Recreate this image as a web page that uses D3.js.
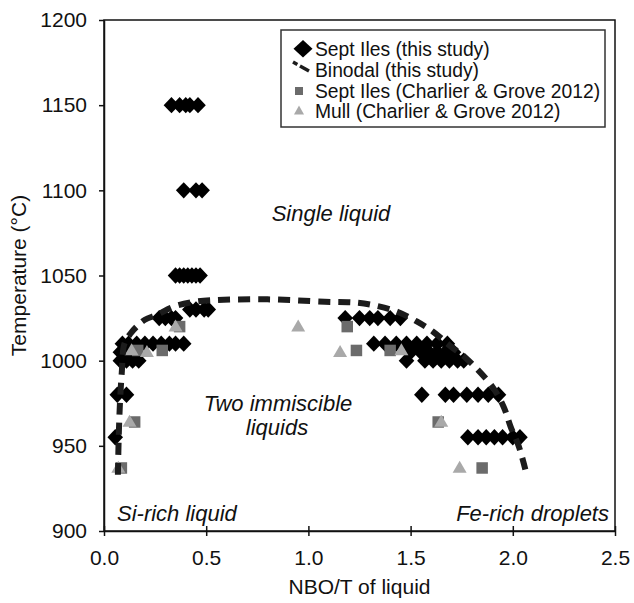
<!DOCTYPE html>
<html><head><meta charset="utf-8">
<script src="https://cdn.jsdelivr.net/npm/d3@7"></script>
<style>
html,body{margin:0;padding:0;background:#fff;}
svg{display:block;font-family:"Liberation Sans",Arial,sans-serif;}
</style></head>
<body><svg id="c" width="634" height="603"></svg>
<script>
// ---- data ----
const xTicks = [0, 0.5, 1.0, 1.5, 2.0, 2.5];
const yTicks = [900, 950, 1000, 1050, 1100, 1150, 1200];

// Sept Iles (this study)
const septX = [0.33,0.37,0.40,0.42,0.46, 0.39,0.45,0.48, 0.35,0.37,0.39,0.41,0.43,0.45,0.47,
  0.42,0.45,0.49,0.51, 0.27,0.30,0.33,0.35, 0.09,0.12,0.16,0.20,0.24,0.28,0.32,0.35,0.39,
  0.08,0.10,0.13, 0.08,0.11,0.14,0.17, 0.065,0.11, 0.055,
  1.18,1.25,1.30,1.34,1.40,1.45, 1.32,1.375,1.43,1.48,1.53,1.58,1.63,1.68,
  1.50,1.55,1.59,1.63,1.67,1.71, 1.48,1.57,1.61,1.65,1.69,1.73,1.76,
  1.555,1.67,1.71,1.775,1.83,1.88,1.93, 1.78,1.83,1.87,1.91,1.95,2.0,2.035];
const septT = [1150,1150,1150,1150,1150, 1100,1100,1100, 1050,1050,1050,1050,1050,1050,1050,
  1030,1030,1030,1030, 1025,1025,1025,1025, 1010,1010,1010,1010,1010,1010,1010,1010,1010,
  1005,1005,1005, 1000,1000,1000,1000, 980,980, 955,
  1025,1025,1025,1025,1025,1025, 1010,1010,1010,1010,1010,1010,1010,1010,
  1005,1005,1005,1005,1005,1005, 1000,1000,1000,1000,1000,1000,1000,
  980,980,980,980,980,980,980, 955,955,955,955,955,955,955];

// Binodal (this study)
const binX = [0.068,0.072,0.078,0.087,0.10,0.13,0.16,0.20,0.26,0.34,0.44,0.55,0.80,1.08,1.24,1.34,1.435,1.53,1.61,1.69,1.77,1.90,1.955,1.99,2.03,2.07];
const binT = [933,955,975,993,1010,1016,1020,1024,1027,1031.7,1034.5,1035.6,1036,1034.6,1034,1032,1028.7,1023,1017,1009,1001.6,984.7,973,961,949.5,932];

// Sept Iles (Charlier & Grove 2012)
const cgSeptX = [0.37,0.165,0.285,0.15,0.085, 1.19,1.235,1.40,1.635,1.85];
const cgSeptT = [1020,1006,1006,964,937, 1020,1006,1006,964,937];

// Mull (Charlier & Grove 2012)
const mullX = [0.35,0.135,0.21,0.125,0.07, 0.95,1.155,1.455,1.65,1.74];
const mullT = [1020,1006,1005,964,937, 1020,1005,1006,964,937];

const legendLabels = ["Sept Iles (this study)","Binodal (this study)","Sept Iles (Charlier & Grove 2012)","Mull (Charlier & Grove 2012)"];

// ---- layout ----
const svg = d3.select("#c");
const L = 104, R = 615, T = 20, B = 531;
const x = d3.scaleLinear().domain([0, 2.5]).range([L, R]);
const y = d3.scaleLinear().domain([900, 1200]).range([B, T]);
const FS_TICK = 21, FS_TITLE = 21, FS_ANN = 22, FS_LEG = 19.3;

// plot frame
svg.append("rect").attr("x", L).attr("y", T).attr("width", R - L).attr("height", B - T)
  .attr("fill", "none").attr("stroke", "#111").attr("stroke-width", 1.5);

// axes
const xAxis = d3.axisBottom(x).tickValues(xTicks).tickFormat(d3.format(".1f")).tickSizeInner(5).tickSizeOuter(0).tickPadding(14);
const gx = svg.append("g").attr("transform", `translate(0,${B})`).call(xAxis);
gx.selectAll(".tick line").attr("y1", -5);
const yAxis = d3.axisLeft(y).tickValues(yTicks).tickFormat(d3.format("d")).tickSizeInner(5).tickSizeOuter(0).tickPadding(12);
const gy = svg.append("g").attr("transform", `translate(${L},0)`).call(yAxis);
[gx, gy].forEach(g => {
  g.select(".domain").attr("stroke", "#111").attr("stroke-width", 1.5);
  g.selectAll(".tick line").attr("stroke", "#111").attr("stroke-width", 1.5);
  g.selectAll(".tick text").attr("font-size", FS_TICK).attr("fill", "#111")
    .attr("font-family", '"Liberation Sans",Arial,sans-serif');
});

// axis titles
svg.append("text").attr("x", (L + R) / 2).attr("y", 594).attr("text-anchor", "middle")
  .attr("font-size", FS_TITLE).attr("fill", "#111").text("NBO/T of liquid");
svg.append("text").attr("transform", `translate(26,${(T + B) / 2}) rotate(-90)`).attr("text-anchor", "middle")
  .attr("font-size", FS_TITLE).attr("fill", "#111").text("Temperature (°C)");

// annotations
const ann = [
  {t: "Single liquid", x: 331, y: 221, a: "middle"},
  {t: "Two immiscible", x: 278, y: 411, a: "middle"},
  {t: "liquids", x: 277, y: 435, a: "middle"},
  {t: "Si-rich liquid", x: 117, y: 521, a: "start"},
  {t: "Fe-rich droplets", x: 609, y: 521, a: "end"}
];
svg.selectAll("text.ann").data(ann).enter().append("text").attr("class", "ann")
  .attr("x", d => d.x).attr("y", d => d.y).attr("text-anchor", d => d.a)
  .attr("font-size", FS_ANN).attr("font-style", "italic").attr("fill", "#111").text(d => d.t);

// marker shapes
const diamond = (hw, hh) => `M0,${-hh}L${hw},0L0,${hh}L${-hw},0Z`;
const square = s => `M${-s/2},${-s/2}h${s}v${s}h${-s}Z`;
const tri = (w, h) => `M0,${-h*0.6}L${w/2},${h*0.4}L${-w/2},${h*0.4}Z`;

const sept = septX.map((v, i) => [v, septT[i]]);
svg.append("g").selectAll("path").data(sept).enter().append("path")
  .attr("d", diamond(7.8, 8.2)).attr("transform", d => `translate(${x(d[0])},${y(d[1])})`)
  .attr("fill", "#000");

const cg = cgSeptX.map((v, i) => [v, cgSeptT[i]]);
svg.append("g").selectAll("path").data(cg).enter().append("path")
  .attr("d", square(11.5)).attr("transform", d => `translate(${x(d[0])},${y(d[1])})`)
  .attr("fill", "#6b6b6b");

const mull = mullX.map((v, i) => [v, mullT[i]]);
svg.append("g").selectAll("path").data(mull).enter().append("path")
  .attr("d", tri(14, 12)).attr("transform", d => `translate(${x(d[0])},${y(d[1])})`)
  .attr("fill", "#a9a9a9");

// binodal
const bin = binX.map((v, i) => [v, binT[i]]);
svg.append("path").datum(bin)
  .attr("d", d3.line().x(d => x(d[0])).y(d => y(d[1])).curve(d3.curveCatmullRom.alpha(0.5)))
  .attr("fill", "none").attr("stroke", "#1c1c1c").attr("stroke-width", 6)
  .attr("stroke-dasharray", "12,8");

// legend
const lg = svg.append("g");
lg.append("rect").attr("x", 281).attr("y", 30).attr("width", 324).attr("height", 97)
  .attr("fill", "#fff").attr("stroke", "#333").attr("stroke-width", 1.5);
const rowY = [48.7, 70, 91, 111];
lg.selectAll("text").data(legendLabels).enter().append("text")
  .attr("x", 315).attr("y", (d, i) => rowY[i] + 7).attr("font-size", FS_LEG).attr("fill", "#111").text(d => d);
lg.append("path").attr("d", diamond(9.5, 8.7)).attr("transform", `translate(303,${rowY[0]})`).attr("fill", "#000");
lg.append("line").attr("x1", 293).attr("y1", 62).attr("x2", 309).attr("y2", 71)
  .attr("stroke", "#1c1c1c").attr("stroke-width", 3.5).attr("stroke-dasharray", "5,3,13");
lg.append("path").attr("d", square(8)).attr("transform", `translate(299,${rowY[2]})`).attr("fill", "#6b6b6b");
lg.append("path").attr("d", tri(10, 9)).attr("transform", `translate(299,${rowY[3]})`).attr("fill", "#a9a9a9");
</script>
</body></html>
